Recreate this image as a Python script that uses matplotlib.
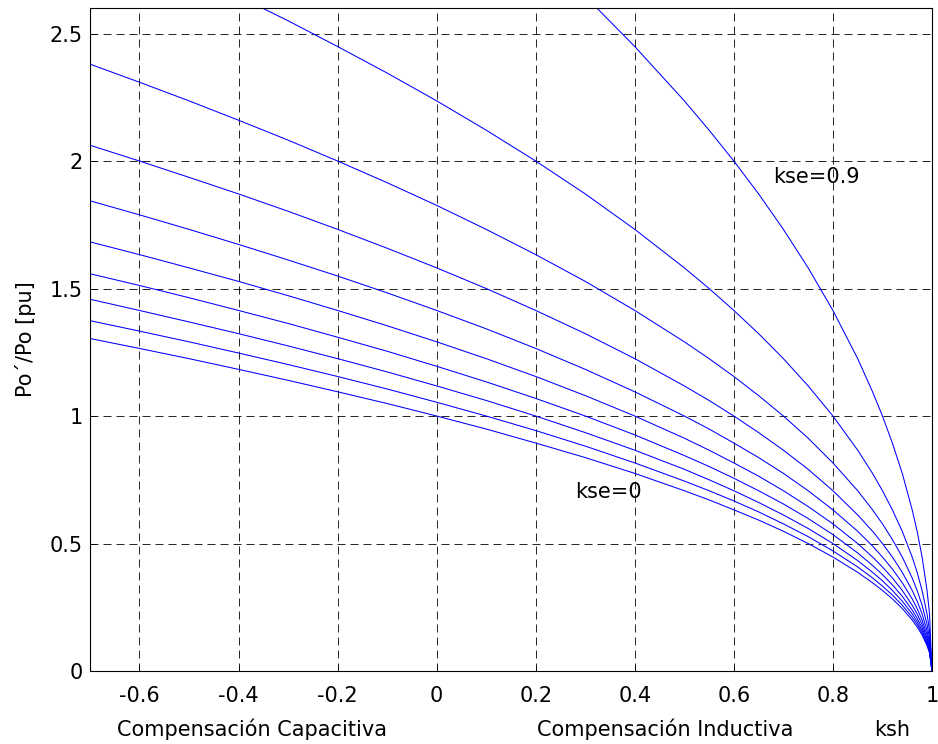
import matplotlib
matplotlib.use("Agg")
import matplotlib.pyplot as plt

# ksh sample points (shunt compensation), denser towards ksh = 1
ksh = [-0.7, -0.6, -0.5, -0.4, -0.3, -0.2, -0.1, 0.0, 0.1, 0.2, 0.3, 0.4,
       0.5, 0.55, 0.6, 0.65, 0.7, 0.75, 0.8, 0.85, 0.88, 0.9, 0.92, 0.94,
       0.96, 0.97, 0.98, 0.99, 0.995, 1.0]

# Po'/Po for each series compensation level kse
po_kse00 = [1.304, 1.265, 1.225, 1.183, 1.140, 1.095, 1.049, 1.000, 0.949, 0.894,
            0.837, 0.775, 0.707, 0.671, 0.632, 0.592, 0.548, 0.500, 0.447, 0.387,
            0.346, 0.316, 0.283, 0.245, 0.200, 0.173, 0.141, 0.100, 0.071, 0.000]
po_kse01 = [1.374, 1.333, 1.291, 1.247, 1.202, 1.155, 1.106, 1.054, 1.000, 0.943,
            0.882, 0.816, 0.745, 0.707, 0.667, 0.624, 0.577, 0.527, 0.471, 0.408,
            0.365, 0.333, 0.298, 0.258, 0.211, 0.183, 0.149, 0.105, 0.075, 0.000]
po_kse02 = [1.458, 1.414, 1.369, 1.323, 1.275, 1.225, 1.173, 1.118, 1.061, 1.000,
            0.935, 0.866, 0.791, 0.750, 0.707, 0.661, 0.612, 0.559, 0.500, 0.433,
            0.387, 0.354, 0.316, 0.274, 0.224, 0.194, 0.158, 0.112, 0.079, 0.000]
po_kse03 = [1.558, 1.512, 1.464, 1.414, 1.363, 1.309, 1.254, 1.195, 1.134, 1.069,
            1.000, 0.926, 0.845, 0.802, 0.756, 0.707, 0.655, 0.598, 0.535, 0.463,
            0.414, 0.378, 0.338, 0.293, 0.239, 0.207, 0.169, 0.120, 0.085, 0.000]
po_kse04 = [1.683, 1.633, 1.581, 1.528, 1.472, 1.414, 1.354, 1.291, 1.225, 1.155,
            1.080, 1.000, 0.913, 0.866, 0.816, 0.764, 0.707, 0.645, 0.577, 0.500,
            0.447, 0.408, 0.365, 0.316, 0.258, 0.224, 0.183, 0.129, 0.091, 0.000]
po_kse05 = [1.844, 1.789, 1.732, 1.673, 1.612, 1.549, 1.483, 1.414, 1.342, 1.265,
            1.183, 1.095, 1.000, 0.949, 0.894, 0.837, 0.775, 0.707, 0.632, 0.548,
            0.490, 0.447, 0.400, 0.346, 0.283, 0.245, 0.200, 0.141, 0.100, 0.000]
po_kse06 = [2.062, 2.000, 1.936, 1.871, 1.803, 1.732, 1.658, 1.581, 1.500, 1.414,
            1.323, 1.225, 1.118, 1.061, 1.000, 0.935, 0.866, 0.791, 0.707, 0.612,
            0.548, 0.500, 0.447, 0.387, 0.316, 0.274, 0.224, 0.158, 0.112, 0.000]
po_kse07 = [2.380, 2.309, 2.236, 2.160, 2.082, 2.000, 1.915, 1.826, 1.732, 1.633,
            1.528, 1.414, 1.291, 1.225, 1.155, 1.080, 1.000, 0.913, 0.816, 0.707,
            0.632, 0.577, 0.516, 0.447, 0.365, 0.316, 0.258, 0.183, 0.129, 0.000]
po_kse08 = [2.915, 2.828, 2.739, 2.646, 2.550, 2.449, 2.345, 2.236, 2.121, 2.000,
            1.871, 1.732, 1.581, 1.500, 1.414, 1.323, 1.225, 1.118, 1.000, 0.866,
            0.775, 0.707, 0.632, 0.548, 0.447, 0.387, 0.316, 0.224, 0.158, 0.000]
po_kse09 = [4.123, 4.000, 3.873, 3.742, 3.606, 3.464, 3.317, 3.162, 3.000, 2.828,
            2.646, 2.449, 2.236, 2.121, 2.000, 1.871, 1.732, 1.581, 1.414, 1.225,
            1.095, 1.000, 0.894, 0.775, 0.632, 0.548, 0.447, 0.316, 0.224, 0.000]

curves = [po_kse00, po_kse01, po_kse02, po_kse03, po_kse04,
          po_kse05, po_kse06, po_kse07, po_kse08, po_kse09]

xticks = [-0.6, -0.4, -0.2, 0, 0.2, 0.4, 0.6, 0.8, 1]
yticks = [0, 0.5, 1, 1.5, 2, 2.5]

plt.rcParams['font.family'] = ['DejaVu Sans']
FS = 15

fig = plt.figure(figsize=(9.38, 7.44), dpi=100)
ax = fig.add_axes([0.0959, 0.0981, 0.8977, 0.8911])

for y in curves:
    ax.plot(ksh, y, color=(0, 0, 1), lw=0.75)

ax.set_xlim(-0.7, 1.0)
ax.set_ylim(0, 2.6)
ax.set_xticks(xticks)
ax.set_xticklabels(['%g' % t for t in xticks])
ax.set_yticks(yticks)
ax.set_yticklabels(['%g' % t for t in yticks])
ax.tick_params(direction='in', length=4, labelsize=FS, width=0.6)
ax.tick_params(axis='x', pad=11)
ax.tick_params(axis='y', pad=5)
ax.grid(True, color='black', linestyle=(0, (9.6, 6)), linewidth=0.6)
for sp in ax.spines.values():
    sp.set_linewidth(0.8)

ax.text(0.679, 1.912, 'kse=0.9', fontsize=FS, va='baseline', ha='left')
ax.text(0.2795, 0.678, 'kse=0', fontsize=FS, va='baseline', ha='left')

ax.set_ylabel('Po´/Po [pu]', fontsize=FS, labelpad=10)
base_y = 1 - 736 / 744
fig.text(252 / 938, base_y, 'Compensación Capacitiva', fontsize=FS,
         ha='center', va='baseline')
fig.text(665 / 938, base_y, 'Compensación Inductiva', fontsize=FS,
         ha='center', va='baseline')
fig.text(892 / 938, base_y, 'ksh', fontsize=FS, ha='center', va='baseline')

fig.savefig('out.png', dpi=100)
